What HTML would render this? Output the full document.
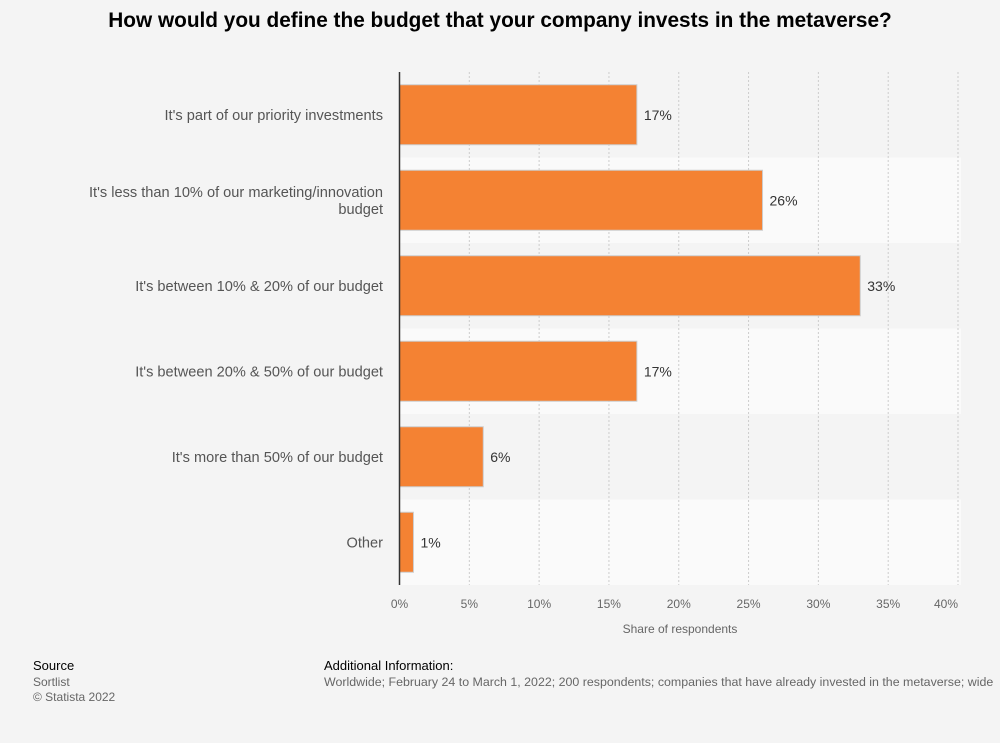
<!DOCTYPE html>
<html><head><meta charset="utf-8"><style>
body{margin:0;width:1000px;height:743px;background:#f4f4f4;font-family:"Liberation Sans",sans-serif;overflow:hidden;position:relative}
.t{position:absolute;white-space:nowrap}
</style></head><body>
<div class="t" style="left:0;width:1000px;text-align:center;top:9px;font-size:20.8px;font-weight:bold;color:#000">How would you define the budget that your company invests in the metaverse?</div>
<svg id="c" width="1000" height="743" style="position:absolute;left:0;top:0"></svg>
<div class="t" style="left:33px;top:658px;font-size:13px;color:#000">Source</div>
<div class="t" style="left:33px;top:675px;font-size:12px;color:#666">Sortlist</div>
<div class="t" style="left:33px;top:690px;font-size:12px;color:#666">© Statista 2022</div>
<div class="t" style="left:324px;top:658px;font-size:13px;color:#000">Additional Information:</div>
<div class="t" style="left:324px;top:675px;font-size:12.4px;color:#666">Worldwide; February 24 to March 1, 2022; 200 respondents; companies that have already invested in the metaverse; wide</div>
<script>
const categories=[["It's part of our priority investments"],["It's less than 10% of our marketing/innovation","budget"],["It's between 10% & 20% of our budget"],["It's between 20% & 50% of our budget"],["It's more than 50% of our budget"],["Other"]];
const values=[17,26,33,17,6,1];
const ticks=[0,5,10,15,20,25,30,35,40];
const NS="http://www.w3.org/2000/svg";
const svg=document.getElementById('c');
const x0=399.5,x1=958,maxV=40,top0=72,bandH=85.5;
const xs=v=>x0+(x1-x0)*v/maxV;
const ys=i=>top0+i*bandH;
function mk(t,a){const e=document.createElementNS(NS,t);for(const k in a)e.setAttribute(k,a[k]);svg.appendChild(e);return e;}
categories.forEach((c,i)=>{if(i%2==1){const b=mk('rect',{x:x0,y:ys(i),width:961-x0,height:bandH,fill:'#fafafa'});

}});
ticks.forEach(t=>{if(t>0){const l=mk('line',{x1:xs(t),x2:xs(t),y1:top0,y2:top0+6*bandH,stroke:'#ccc','stroke-dasharray':'2,2'});

}
const tx=mk('text',{x:t==40?xs(t)-12:xs(t),y:608,'text-anchor':'middle','font-size':12,fill:'#666'});tx.textContent=t+'%';

});
categories.forEach((c,i)=>{const cy=ys(i)+bandH/2;
const r=mk('rect',{x:x0,y:cy-30,width:xs(values[i])-x0,height:60,fill:'#f48233',stroke:'#ccc','stroke-width':1});


const v=mk('text',{x:xs(values[i])+7,y:cy+5,'font-size':14,fill:'#333'});v.textContent=values[i]+'%';


c.forEach((ln,j)=>{const y=cy+5+(j-(c.length-1)/2)*17;
const tl=mk('text',{x:383,y:y,'text-anchor':'end','font-size':14.6,fill:'#555'});tl.textContent=ln;

});});
const ax=mk('line',{x1:x0,x2:x0,y1:top0,y2:top0+6*bandH,stroke:'#333','stroke-width':1.5});


const at=mk('text',{x:680,y:633,'text-anchor':'middle','font-size':12,fill:'#666'});at.textContent='Share of respondents';


</script>
</body></html>
